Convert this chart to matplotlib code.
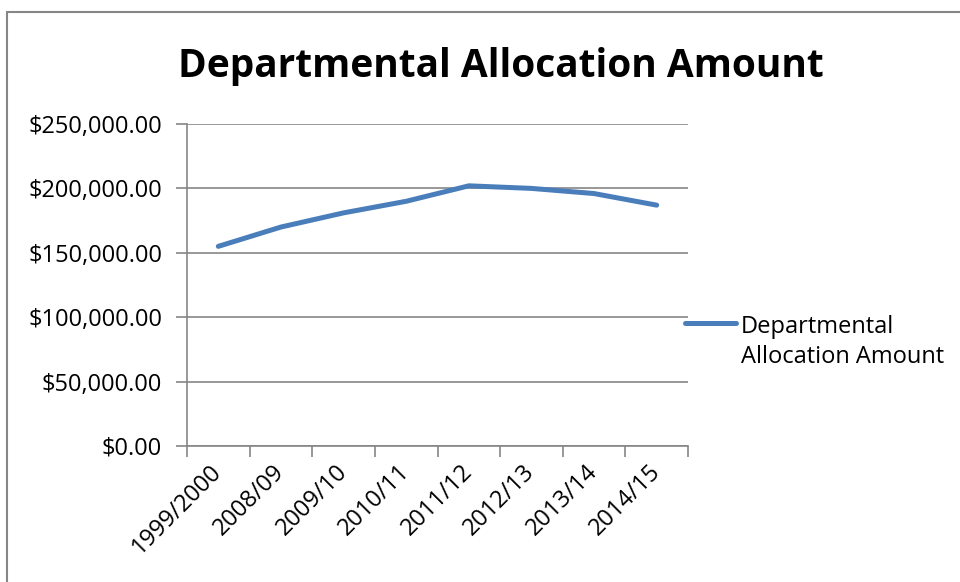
import matplotlib
matplotlib.use("Agg")
import matplotlib.pyplot as plt
import matplotlib.transforms as mtransforms
from matplotlib.ticker import FuncFormatter, FixedLocator
from matplotlib.patches import Rectangle
from matplotlib.lines import Line2D

categories = ["1999/2000", "2008/09", "2009/10", "2010/11", "2011/12", "2012/13", "2013/14", "2014/15"]
amounts = [155000, 170000, 181000, 190000, 202000, 200000, 196000, 187000]
y_ticks = [0, 50000, 100000, 150000, 200000, 250000]
series_name = "Departmental Allocation Amount"
title = "Departmental Allocation Amount"

W, H = 960, 582
fig = plt.figure(figsize=(W / 100, H / 100), dpi=100)
plt.rcParams["font.family"] = ["Open Sans", "DejaVu Sans"]

# outer chart frame
fig.patches.append(Rectangle((6.5 / W, -0.1), 1.2, 1 - 11.5 / H + 0.1, transform=fig.transFigure,
                             fill=False, edgecolor="#868686", linewidth=1.5))

ax = fig.add_axes([187 / W, 1 - 446 / H, (688 - 187) / W, (446 - 124) / H])
x = [i + 0.5 for i in range(len(categories))]
ax.plot(x, amounts, color="#4a7ebb", linewidth=3.6, solid_capstyle="round", solid_joinstyle="round")

ax.set_xlim(0, len(categories))
ax.set_ylim(0, 250000)
ax.yaxis.set_major_locator(FixedLocator(y_ticks))
ax.yaxis.set_major_formatter(FuncFormatter(lambda v, p: f"${v:,.2f}"))
ax.xaxis.set_major_locator(FixedLocator(range(len(categories) + 1)))
ax.xaxis.set_minor_locator(FixedLocator(x))
ax.set_xticklabels([""] * (len(categories) + 1))
labels = ax.set_xticklabels(categories, minor=True, rotation=45, ha="right", va="center",
                            rotation_mode="anchor", fontsize=17)
shift = mtransforms.ScaledTranslation(6 / 100, 0, fig.dpi_scale_trans)
for lab in labels:
    lab.set_transform(lab.get_transform() + shift)
ax.tick_params(axis="x", which="minor", length=0, pad=16)
ax.tick_params(axis="x", which="major", length=8, color="#868686", width=1.2)
ax.tick_params(axis="y", length=8, color="#868686", width=1.2, labelsize=17, pad=10)
ax.grid(axis="y", color="#868686", linewidth=1.2)
ax.set_axisbelow(True)
for s in ["top", "right"]:
    ax.spines[s].set_visible(False)
for s in ["left", "bottom"]:
    ax.spines[s].set_color("#868686")
    ax.spines[s].set_linewidth(1.2)

fig.text(500.5 / W, 1 - 77 / H, title, ha="center", va="baseline",
         fontsize=28, fontweight="bold")

# legend
fig.add_artist(Line2D([685 / W, 736 / W], [1 - 323 / H] * 2, color="#4a7ebb", linewidth=3.6,
                      solid_capstyle="round"))
fig.text(741 / W, 1 - 333 / H, "Departmental", ha="left", va="baseline", fontsize=17)
fig.text(741 / W, 1 - 363 / H, "Allocation Amount", ha="left", va="baseline", fontsize=17)

fig.savefig("out.png", dpi=100)
